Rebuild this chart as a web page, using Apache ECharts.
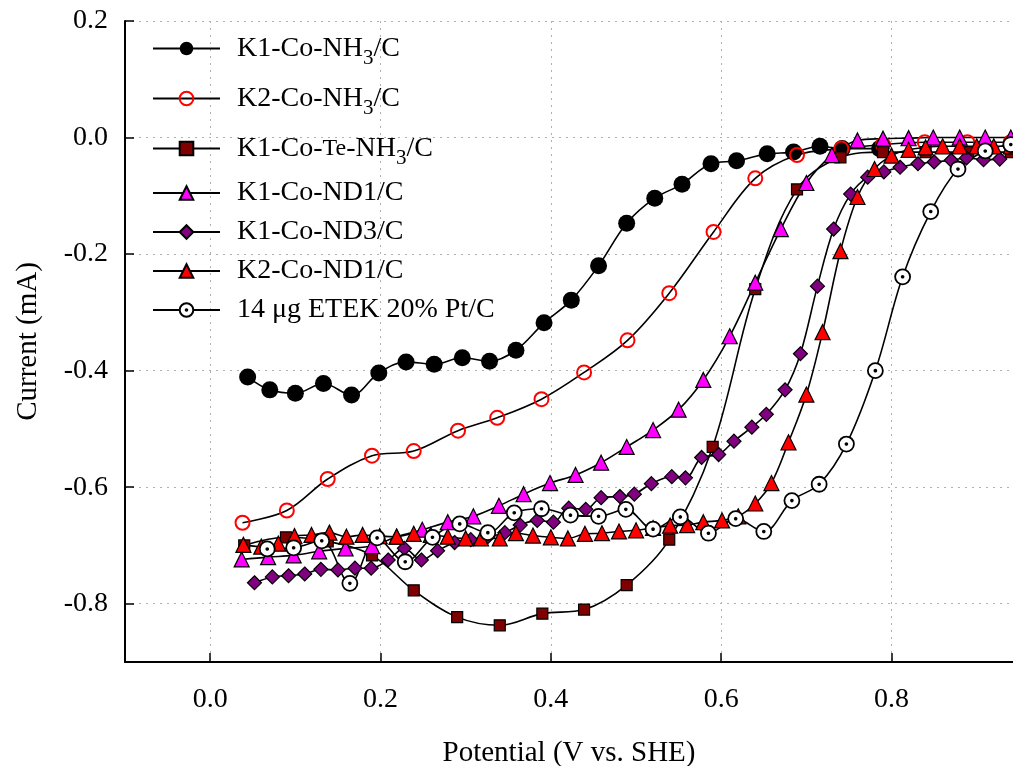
<!DOCTYPE html>
<html><head><meta charset="utf-8">
<script src="https://cdn.jsdelivr.net/npm/echarts@6/dist/echarts.min.js"></script>
<style>html,body{margin:0;padding:0;background:#fff}#c{width:1013px;height:766px}</style>
</head><body><div id="c"></div>
<script>
// ---- data (Potential V vs. SHE, Current mA) ----
const k1NH3_x = [0.044,0.070,0.100,0.133,0.166,0.198,0.230,0.263,0.296,0.328,0.359,0.392,0.424,0.456,0.489,0.522,0.554,0.588,0.618,0.654,0.685,0.716,0.742,0.786];
const k1NH3_y = [-0.411,-0.433,-0.439,-0.422,-0.442,-0.404,-0.385,-0.389,-0.378,-0.384,-0.365,-0.318,-0.279,-0.220,-0.147,-0.104,-0.080,-0.045,-0.040,-0.028,-0.025,-0.015,-0.019,-0.019];

const k2NH3_x = [0.038,0.090,0.138,0.190,0.239,0.291,0.337,0.389,0.439,0.490,0.539,0.591,0.640,0.689,0.741,0.790,0.839,0.889,0.940];
const k2NH3_y = [-0.661,-0.640,-0.586,-0.546,-0.538,-0.503,-0.481,-0.449,-0.403,-0.348,-0.267,-0.162,-0.070,-0.030,-0.019,-0.012,-0.008,-0.008,-0.008];

const k1TeNH3_x = [0.040,0.089,0.138,0.190,0.239,0.290,0.340,0.390,0.439,0.489,0.539,0.590,0.640,0.689,0.740,0.790,0.840,0.890,0.940];
const k1TeNH3_y = [-0.700,-0.686,-0.693,-0.717,-0.777,-0.823,-0.837,-0.817,-0.810,-0.768,-0.690,-0.531,-0.260,-0.089,-0.034,-0.025,-0.025,-0.025,-0.025];

const k1ND1_x = [0.037,0.068,0.098,0.128,0.159,0.190,0.219,0.249,0.279,0.309,0.339,0.368,0.399,0.429,0.459,0.489,0.520,0.550,0.579,0.610,0.640,0.670,0.700,0.730,0.760,0.790,0.820,0.849,0.880,0.910,0.940];
const k1ND1_y = [-0.724,-0.720,-0.717,-0.710,-0.705,-0.701,-0.685,-0.673,-0.660,-0.650,-0.632,-0.612,-0.593,-0.579,-0.558,-0.531,-0.502,-0.467,-0.416,-0.341,-0.249,-0.157,-0.078,-0.030,-0.005,-0.002,-0.001,0.000,0.000,0.000,0.000];

const k1ND3_x = [0.052,0.073,0.092,0.111,0.130,0.150,0.170,0.189,0.209,0.228,0.248,0.267,0.287,0.306,0.326,0.346,0.364,0.384,0.403,0.421,0.441,0.459,0.481,0.498,0.518,0.542,0.558,0.577,0.597,0.615,0.636,0.653,0.675,0.693,0.713,0.732,0.752,0.772,0.791,0.810,0.831,0.850,0.870,0.888,0.908,0.927];
const k1ND3_y = [-0.764,-0.754,-0.752,-0.749,-0.741,-0.742,-0.739,-0.739,-0.725,-0.705,-0.725,-0.709,-0.695,-0.690,-0.685,-0.678,-0.665,-0.657,-0.660,-0.636,-0.638,-0.618,-0.616,-0.612,-0.594,-0.582,-0.584,-0.549,-0.544,-0.521,-0.497,-0.475,-0.433,-0.371,-0.255,-0.157,-0.097,-0.068,-0.059,-0.051,-0.045,-0.042,-0.039,-0.035,-0.038,-0.037];

const k2ND1_x = [0.039,0.060,0.080,0.099,0.119,0.140,0.160,0.179,0.199,0.219,0.239,0.259,0.279,0.300,0.318,0.340,0.359,0.379,0.400,0.420,0.440,0.460,0.480,0.500,0.520,0.540,0.560,0.579,0.601,0.620,0.640,0.659,0.679,0.700,0.719,0.740,0.760,0.780,0.800,0.820,0.840,0.860,0.880,0.900,0.920,0.940];
const k2ND1_y = [-0.699,-0.702,-0.697,-0.684,-0.682,-0.678,-0.685,-0.682,-0.684,-0.685,-0.680,-0.682,-0.685,-0.688,-0.688,-0.688,-0.679,-0.683,-0.686,-0.688,-0.680,-0.679,-0.676,-0.674,-0.670,-0.666,-0.665,-0.660,-0.657,-0.650,-0.628,-0.593,-0.523,-0.441,-0.334,-0.195,-0.102,-0.054,-0.031,-0.021,-0.017,-0.015,-0.015,-0.015,-0.015,-0.015];

const etek_x = [0.067,0.098,0.131,0.164,0.196,0.229,0.261,0.293,0.326,0.357,0.389,0.423,0.456,0.488,0.520,0.552,0.585,0.617,0.650,0.683,0.715,0.747,0.781,0.813,0.846,0.878,0.910,0.940];
const etek_y = [-0.706,-0.704,-0.692,-0.765,-0.687,-0.728,-0.686,-0.663,-0.678,-0.644,-0.637,-0.648,-0.650,-0.638,-0.672,-0.651,-0.679,-0.654,-0.676,-0.623,-0.595,-0.526,-0.400,-0.239,-0.127,-0.054,-0.023,-0.012];

const seriesNames = ['K1-Co-NH3/C','K2-Co-NH3/C','K1-Co-Te-NH3/C','K1-Co-ND1/C','K1-Co-ND3/C','K2-Co-ND1/C','14 μg ETEK 20% Pt/C'];
const legendLabels = [
  '{p|K1-Co-NH}{s|3}{a|/C}',
  '{p|K2-Co-NH}{s|3}{a|/C}',
  '{p|K1-Co-}{t|Te}{a|-NH}{s|3}{a|/C}',
  '{p|K1-Co-ND1/C}',
  '{p|K1-Co-ND3/C}',
  '{p|K2-Co-ND1/C}',
  '{p|14 μg ETEK 20% Pt/C}'
];
const xTicks = [0, 0.2, 0.4, 0.6, 0.8];
const yTicks = [-0.8, -0.6, -0.4, -0.2, 0, 0.2];

// ---- styles ----
const FONT = 'Liberation Serif';
const dotCircle = 'path://M0,-10A10,10,0,1,1,0,10A10,10,0,1,1,0,-10ZM0,-1.2A1.2,1.2,0,1,1,0,1.2A1.2,1.2,0,1,1,0,-1.2Z';
const styles = [
  {symbol:'circle', size:17, item:{color:'#000', borderColor:'#000', borderWidth:0}},
  {symbol:'circle', size:14, item:{color:'rgba(255,255,255,0)', borderColor:'#ff0000', borderWidth:2}},
  {symbol:'rect', size:11, item:{color:'#800000', borderColor:'#000', borderWidth:1.2}},
  {symbol:'triangle', size:15, item:{color:'#ff00ff', borderColor:'#000', borderWidth:1.2}},
  {symbol:'diamond', size:14, item:{color:'#800080', borderColor:'#000', borderWidth:1.2}},
  {symbol:'triangle', size:15, item:{color:'#ff0000', borderColor:'#000', borderWidth:1.2}},
  {symbol:dotCircle, size:15, item:{color:'#fff', borderColor:'#000', borderWidth:1.8}}
];
const xs = [k1NH3_x,k2NH3_x,k1TeNH3_x,k1ND1_x,k1ND3_x,k2ND1_x,etek_x];
const ys = [k1NH3_y,k2NH3_y,k1TeNH3_y,k1ND1_y,k1ND3_y,k2ND1_y,etek_y];

const series = [];
seriesNames.forEach((name, i) => {
  const data = xs[i].map((x, j) => [x, ys[i][j]]);
  const st = styles[i];
  series.push({
    name, type:'line', data, smooth:0.35, z:2,
    symbol: st.symbol, symbolSize: st.size, showSymbol:false,
    itemStyle: st.item,
    lineStyle:{color:'#000', width:1.6},
    emphasis:{disabled:true}, silent:true
  });
});
seriesNames.forEach((name, i) => {
  const data = xs[i].map((x, j) => [x, ys[i][j]]);
  const st = styles[i];
  series.push({
    name: name + ' markers', type:'scatter', data, z:3,
    symbol: st.symbol, symbolSize: st.size,
    itemStyle: Object.assign({opacity:1}, st.item),
    emphasis:{disabled:true}, silent:true
  });
});

const chart = echarts.init(document.getElementById('c'), null, {renderer:'canvas'});
chart.setOption({
  animation:false,
  backgroundColor:'#fff',
  grid:{left:125, right:0, top:21, bottom:104, containLabel:false, outerBoundsMode:'none'},
  legend:{
    data: seriesNames, orient:'vertical', left:152, top:28, padding:0,
    itemGap:9, itemWidth:67, itemHeight:17, selectedMode:false,
    formatter: n => legendLabels[seriesNames.indexOf(n)],
    textStyle:{
      fontFamily:FONT, fontSize:28, color:'#000', lineHeight:30,
      rich:{
        p:{fontFamily:FONT, fontSize:28, lineHeight:30, color:'#000', padding:[0,0,0,12]},
        a:{fontFamily:FONT, fontSize:28, lineHeight:30, color:'#000'},
        t:{fontFamily:FONT, fontSize:24, lineHeight:30, color:'#000'},
        s:{fontFamily:FONT, fontSize:21, lineHeight:20, color:'#000', padding:[20,0,0,0]}
      }
    }
  },
  xAxis:{
    type:'value', min:-0.1, max:0.9426,
    name:'Potential (V vs. SHE)', nameLocation:'middle', nameGap:77,
    nameTextStyle:{fontFamily:FONT, fontSize:29, color:'#000'},
    axisLine:{onZero:false, lineStyle:{color:'#000', width:2}},
    axisTick:{inside:true, length:9, customValues:xTicks, lineStyle:{color:'#000', width:1.5}},
    axisLabel:{customValues:xTicks, formatter:v => Number(v).toFixed(1), fontFamily:FONT, fontSize:28, color:'#000', margin:24},
    splitLine:{show:true, lineStyle:{type:[2,5], color:'#b0b0b0', width:1}}
  },
  yAxis:{
    type:'value', min:-0.9, max:0.2,
    name:'Current (mA)', nameLocation:'middle', nameGap:82,
    nameTextStyle:{fontFamily:FONT, fontSize:29, color:'#000'},
    axisLine:{onZero:false, lineStyle:{color:'#000', width:2}},
    axisTick:{inside:true, length:9, customValues:yTicks, lineStyle:{color:'#000', width:1.5}},
    axisLabel:{customValues:yTicks, formatter:v => Number(v).toFixed(1), fontFamily:FONT, fontSize:28, color:'#000', margin:17},
    splitLine:{show:true, lineStyle:{type:[2,5], color:'#b0b0b0', width:1}}
  },
  series
});
</script>
</body></html>
